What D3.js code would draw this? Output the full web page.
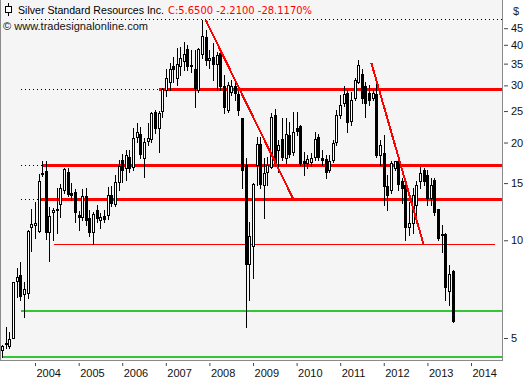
<!DOCTYPE html>
<html>
<head>
<meta charset="utf-8">
<script src="https://cdn.jsdelivr.net/npm/d3@7"></script>
<style>
  body { margin: 0; background: #fff; }
  svg { display: block; font-family: "Liberation Sans", Arial, sans-serif; }
</style>
</head>
<body>
<div id="chart"></div>
<script>
// monthly bars, Silver Standard Resources Inc.
const months = [
  "2003-04","2003-05","2003-06","2003-07","2003-08","2003-09","2003-10","2003-11","2003-12",
  "2004-01","2004-02","2004-03","2004-04","2004-05","2004-06","2004-07","2004-08","2004-09","2004-10","2004-11","2004-12",
  "2005-01","2005-02","2005-03","2005-04","2005-05","2005-06","2005-07","2005-08","2005-09","2005-10","2005-11","2005-12",
  "2006-01","2006-02","2006-03","2006-04","2006-05","2006-06","2006-07","2006-08","2006-09","2006-10","2006-11","2006-12",
  "2007-01","2007-02","2007-03","2007-04","2007-05","2007-06","2007-07","2007-08","2007-09","2007-10","2007-11","2007-12",
  "2008-01","2008-02","2008-03","2008-04","2008-05","2008-06","2008-07","2008-08","2008-09","2008-10","2008-11","2008-12",
  "2009-01","2009-02","2009-03","2009-04","2009-05","2009-06","2009-07","2009-08","2009-09","2009-10","2009-11","2009-12",
  "2010-01","2010-02","2010-03","2010-04","2010-05","2010-06","2010-07","2010-08","2010-09","2010-10","2010-11","2010-12",
  "2011-01","2011-02","2011-03","2011-04","2011-05","2011-06","2011-07","2011-08","2011-09","2011-10","2011-11","2011-12",
  "2012-01","2012-02","2012-03","2012-04","2012-05","2012-06","2012-07","2012-08","2012-09","2012-10","2012-11","2012-12",
  "2013-01","2013-02","2013-03","2013-04","2013-05","2013-06","2013-07","2013-08"
];
const openP = [
  4.59,4.79,4.71,5.01,7.50,7.82,6.82,6.90,11.0,
  11.14,10.7,15.98,16.35,10.6,12.2,12.5,12.9,14.28,16.2,14.0,14.1,
  11.96,11.8,13.65,11.7,10.6,12.39,11.55,11.88,11.96,13.79,12.93,15.15,
  17.67,16.7,18.05,16.8,20.84,21.3,17.9,20.2,20.5,24.8,22.1,25.0,
  29.0,30.8,34.4,31.6,34.4,35.7,38.8,34.5,33.8,29.0,37.4,42.2,
  35.9,36.8,35.0,37.7,29.8,25.2,28.6,29.85,28.2,23.75,17.05,8.48,
  9.6,17.05,19.8,14.8,16.25,16.85,24.3,18.97,20.5,17.9,21.1,18.7,
  22.1,22.5,17.6,17.25,17.4,18.1,20.8,17.9,17.8,16.46,17.67,20.1,
  24.3,26.4,28.4,23.3,27.4,30.8,32.5,29.8,28.4,27.4,28.2,18.3,
  18.55,14.7,14.28,16.75,17.55,15.2,14.8,11.0,11.3,12.84,15.2,16.46,
  15.9,13.5,15.33,12.45,10.38,10.48,6.97,8.03
];
const highP = [
  4.77,5.39,5.23,7.45,8.20,8.58,7.45,10.76,12.5,
  13.1,16.0,17.5,17.55,12.7,12.6,14.45,14.9,16.7,16.7,15.0,14.35,
  12.3,14.35,14.45,12.39,12.2,12.84,12.1,12.39,14.6,14.7,15.89,17.67,
  18.5,18.97,18.97,22.2,22.95,22.3,20.7,22.95,24.9,25.2,25.0,29.4,
  33.8,35.2,36.8,39.2,39.5,40.7,39.9,38.56,38.56,39.2,47.7,44.4,
  38.56,40.4,38.0,38.56,32.3,30.7,31.2,30.5,28.8,23.8,17.9,11.4,
  15.0,20.8,20.8,17.9,18.1,24.65,25.45,20.37,23.8,23.8,23.1,24.9,
  24.9,22.65,18.7,18.3,18.6,21.6,21.3,18.97,18.3,18.3,20.37,25.2,
  28.0,29.85,29.0,28.7,31.6,35.9,33.8,30.8,30.08,29.0,31.2,20.37,
  21.1,15.9,17.55,17.6,17.6,15.55,15.2,13.1,14.45,15.2,16.85,16.7,
  16.46,15.55,15.55,12.5,11.14,10.5,8.39,8.10
];
const lowP = [
  4.38,4.65,4.65,4.99,6.70,6.55,5.82,6.63,9.28,
  10.17,10.6,15.8,10.07,8.63,10.02,10.5,11.8,14.0,13.65,13.3,11.4,
  10.76,11.55,11.14,10.3,9.74,11.4,10.9,11.4,11.65,12.75,12.75,14.28,
  15.1,15.33,16.2,16.46,20.1,17.9,15.7,19.65,20.1,21.4,18.7,24.0,
  27.8,29.0,30.7,30.08,32.3,33.46,33.46,33.0,25.8,28.6,36.4,34.66,
  34.0,31.2,29.0,29.0,24.6,24.8,28.0,27.05,24.3,14.45,5.42,6.55,
  7.64,14.8,14.5,11.7,14.8,16.7,17.05,16.25,17.67,17.25,18.05,18.3,
  21.1,17.05,15.9,16.7,16.9,17.67,17.67,17.05,15.6,16.2,17.4,19.65,
  23.75,25.9,21.5,22.65,27.05,30.5,26.4,24.0,26.1,27.05,18.05,17.05,
  12.84,12.39,14.0,16.46,14.28,13.0,10.02,10.38,10.5,11.96,14.45,14.8,
  12.84,12.84,11.96,10.02,9.2,6.55,6.32,5.62
];
const closeP = [
  4.71,4.84,4.95,7.42,7.70,6.74,7.10,10.69,11.24,
  11.3,15.2,16.1,10.6,11.88,12.39,12.45,14.45,16.6,13.9,13.8,12.2,
  11.8,13.65,11.55,10.6,12.05,11.7,11.8,11.6,13.79,13.0,15.1,16.9,
  16.46,18.31,16.7,20.7,21.6,18.5,20.1,20.7,24.6,22.1,24.6,29.25,
  31.6,33.7,33.7,34.9,36.4,37.5,34.4,34.66,29.4,38.8,42.5,35.9,
  36.4,34.9,37.2,29.8,25.8,30.1,29.85,28.4,25.2,16.46,8.48,10.33,
  14.95,19.8,14.95,16.1,17.05,23.9,17.25,19.65,18.1,21.3,18.5,21.6,
  21.7,17.25,17.25,17.8,17.9,20.5,18.0,17.67,16.25,17.6,20.0,24.3,
  26.1,28.2,23.1,27.05,31.2,34.66,27.4,26.4,27.05,28.4,18.3,19.65,
  14.7,13.8,17.25,17.6,14.95,14.45,11.0,11.3,13.8,14.85,16.1,15.2,
  13.5,14.85,12.2,10.17,10.48,7.2,7.86,5.65
];

const yTicks = [5, 10, 15, 20, 25, 30, 35, 40, 45];
const yearTicks = ["2004","2005","2006","2007","2008","2009","2010","2011","2012","2013","2014"];

// horizontal levels drawn on the chart
const resistLevels = [29.3, 17.05, 13.37];
const resistStart = ["2006-11-01", "2004-03-05", "2004-02-12"];
const minorLevel = 9.72;
const minorStart = "2004-06-10";
const minorEnd = "2014-07-20";
const supportLevels = [6.07, 4.38];
const supportStart = ["2003-09-05", "2003-04-01"];
const topLevel = 48.0;
const dottedFrom = "2003-09-05";

// trend lines
const trendFrom = ["2007-12-01", "2011-09-20"];
const trendFromVal = [47.7, 35.1];
const trendTo = ["2009-12-05", "2012-12-01"];
const trendToVal = [13.37, 9.67];

const titleText = "Silver Standard Resources Inc.";
const quoteText = "C:5.6500 -2.2100 -28.1170%";
const copyText = "\u00a9 www.tradesignalonline.com";

const width = 531, height = 380;
const plotRight = 502, plotBottom = 361;

const parseMonth = d3.utcParse("%Y-%m");
const parseDay = d3.utcParse("%Y-%m-%d");
const parseYear = d3.utcParse("%Y");

const bars = months.map((m, i) => ({
  date: parseMonth(m), o: openP[i], h: highP[i], l: lowP[i], c: closeP[i]
}));

const x = d3.scaleUtc()
  .domain([parseYear("2004"), parseYear("2014")])
  .range([35, 471]);

const y = d3.scaleLog()
  .domain([5, 45])
  .range([338, 28.2]);

const svg = d3.select("#chart")
  .append("svg")
  .attr("width", width)
  .attr("height", height);

// panel
svg.append("rect")
  .attr("x", 0.5).attr("y", -1)
  .attr("width", plotRight).attr("height", plotBottom + 0.5)
  .attr("fill", "#f5f5f5")
  .attr("stroke", "#8a8a8a")
  .attr("shape-rendering", "crispEdges");

const py = v => Math.round(y(v)) + 0.5;
const px = d => Math.round(x(d));

const lines = svg.append("g").attr("shape-rendering", "crispEdges");

// dotted extensions
lines.append("line")
  .attr("x1", px(parseDay(dottedFrom))).attr("x2", plotRight)
  .attr("y1", py(topLevel)).attr("y2", py(topLevel))
  .attr("stroke", "#000").attr("stroke-dasharray", "1,3");

resistLevels.forEach((v, i) => {
  lines.append("line")
    .attr("x1", px(parseDay(dottedFrom))).attr("x2", px(parseDay(resistStart[i])))
    .attr("y1", py(v)).attr("y2", py(v))
    .attr("stroke", "#000").attr("stroke-dasharray", "1,3");
});

// candles
const candles = svg.append("g").attr("shape-rendering", "crispEdges");

bars.forEach(d => {
  const cx = px(d.date);
  candles.append("line")
    .attr("x1", cx + 0.5).attr("x2", cx + 0.5)
    .attr("y1", Math.round(y(d.h))).attr("y2", Math.round(y(d.l)) + 1)
    .attr("stroke", "#000");
  const top = Math.round(y(Math.max(d.o, d.c))) + 0.5;
  const bot = Math.round(y(Math.min(d.o, d.c))) + 0.5;
  candles.append("rect")
    .attr("x", cx - 0.5).attr("width", 2)
    .attr("y", top).attr("height", Math.max(bot - top, 1))
    .attr("fill", d.c >= d.o ? "#fff" : "#000")
    .attr("stroke", "#000");
});

// level lines
resistLevels.forEach((v, i) => {
  lines.append("line")
    .attr("x1", px(parseDay(resistStart[i]))).attr("x2", plotRight)
    .attr("y1", py(v)).attr("y2", py(v))
    .attr("stroke", "#ff0000").attr("stroke-width", 3);
});

lines.append("line")
  .attr("x1", px(parseDay(minorStart))).attr("x2", px(parseDay(minorEnd)))
  .attr("y1", py(minorLevel)).attr("y2", py(minorLevel))
  .attr("stroke", "#ff0000").attr("stroke-width", 1);

supportLevels.forEach((v, i) => {
  lines.append("line")
    .attr("x1", px(parseDay(supportStart[i]))).attr("x2", plotRight)
    .attr("y1", Math.round(y(v))).attr("y2", Math.round(y(v)))
    .attr("stroke", "#33c833").attr("stroke-width", 2);
});

trendFrom.forEach((s, i) => {
  svg.append("line")
    .attr("x1", x(parseDay(s))).attr("y1", y(trendFromVal[i]))
    .attr("x2", x(parseDay(trendTo[i]))).attr("y2", y(trendToVal[i]))
    .attr("stroke", "#ff0000").attr("stroke-width", 2)
    .attr("shape-rendering", "crispEdges");
});

// axes
const yAxis = svg.append("g")
  .attr("transform", `translate(${plotRight + 2},0)`)
  .call(d3.axisRight(y).tickValues(yTicks).tickSize(4).tickPadding(3).tickFormat(d3.format("d")));
yAxis.select(".domain").remove();
yAxis.selectAll("line").attr("stroke", "#444");
yAxis.selectAll("text")
  .attr("font-family", "Liberation Sans, Arial, sans-serif")
  .attr("font-size", 11).attr("fill", "#111");

const xAxis = svg.append("g")
  .attr("transform", `translate(0,${plotBottom + 2})`)
  .call(d3.axisBottom(x).tickValues(yearTicks.map(parseYear)).tickSize(3).tickFormat(d3.utcFormat("%Y")));
xAxis.select(".domain").remove();
xAxis.selectAll("line").attr("stroke", "#444");
xAxis.selectAll("text")
  .attr("font-family", "Liberation Sans, Arial, sans-serif")
  .attr("font-size", 11).attr("fill", "#111")
  .attr("text-anchor", "start")
  .attr("x", 1).attr("y", 14).attr("dy", 0);

svg.append("text")
  .attr("x", 513).attr("y", 15)
  .attr("font-size", 11).attr("fill", "#222")
  .text("$");

// header
const icon = svg.append("g").attr("shape-rendering", "crispEdges");
icon.append("line").attr("x1", 8.5).attr("x2", 8.5).attr("y1", 3).attr("y2", 16).attr("stroke", "#000");
icon.append("rect").attr("x", 5.5).attr("y", 6.5).attr("width", 6).attr("height", 6)
  .attr("fill", "#fff").attr("stroke", "#000");

svg.append("text")
  .attr("x", 18).attr("y", 14)
  .attr("font-size", 11).attr("fill", "#000")
  .attr("textLength", 146).attr("lengthAdjust", "spacingAndGlyphs")
  .text(titleText);

svg.append("text")
  .attr("x", 168).attr("y", 14)
  .attr("font-family", "DejaVu Sans, Verdana, sans-serif")
  .attr("font-size", 11).attr("fill", "#ff0000")
  .attr("textLength", 144).attr("lengthAdjust", "spacingAndGlyphs")
  .text(quoteText);

svg.append("text")
  .attr("x", 3).attr("y", 30)
  .attr("font-size", 11).attr("fill", "#111")
  .attr("textLength", 145).attr("lengthAdjust", "spacingAndGlyphs")
  .text(copyText);
</script>
</body>
</html>
